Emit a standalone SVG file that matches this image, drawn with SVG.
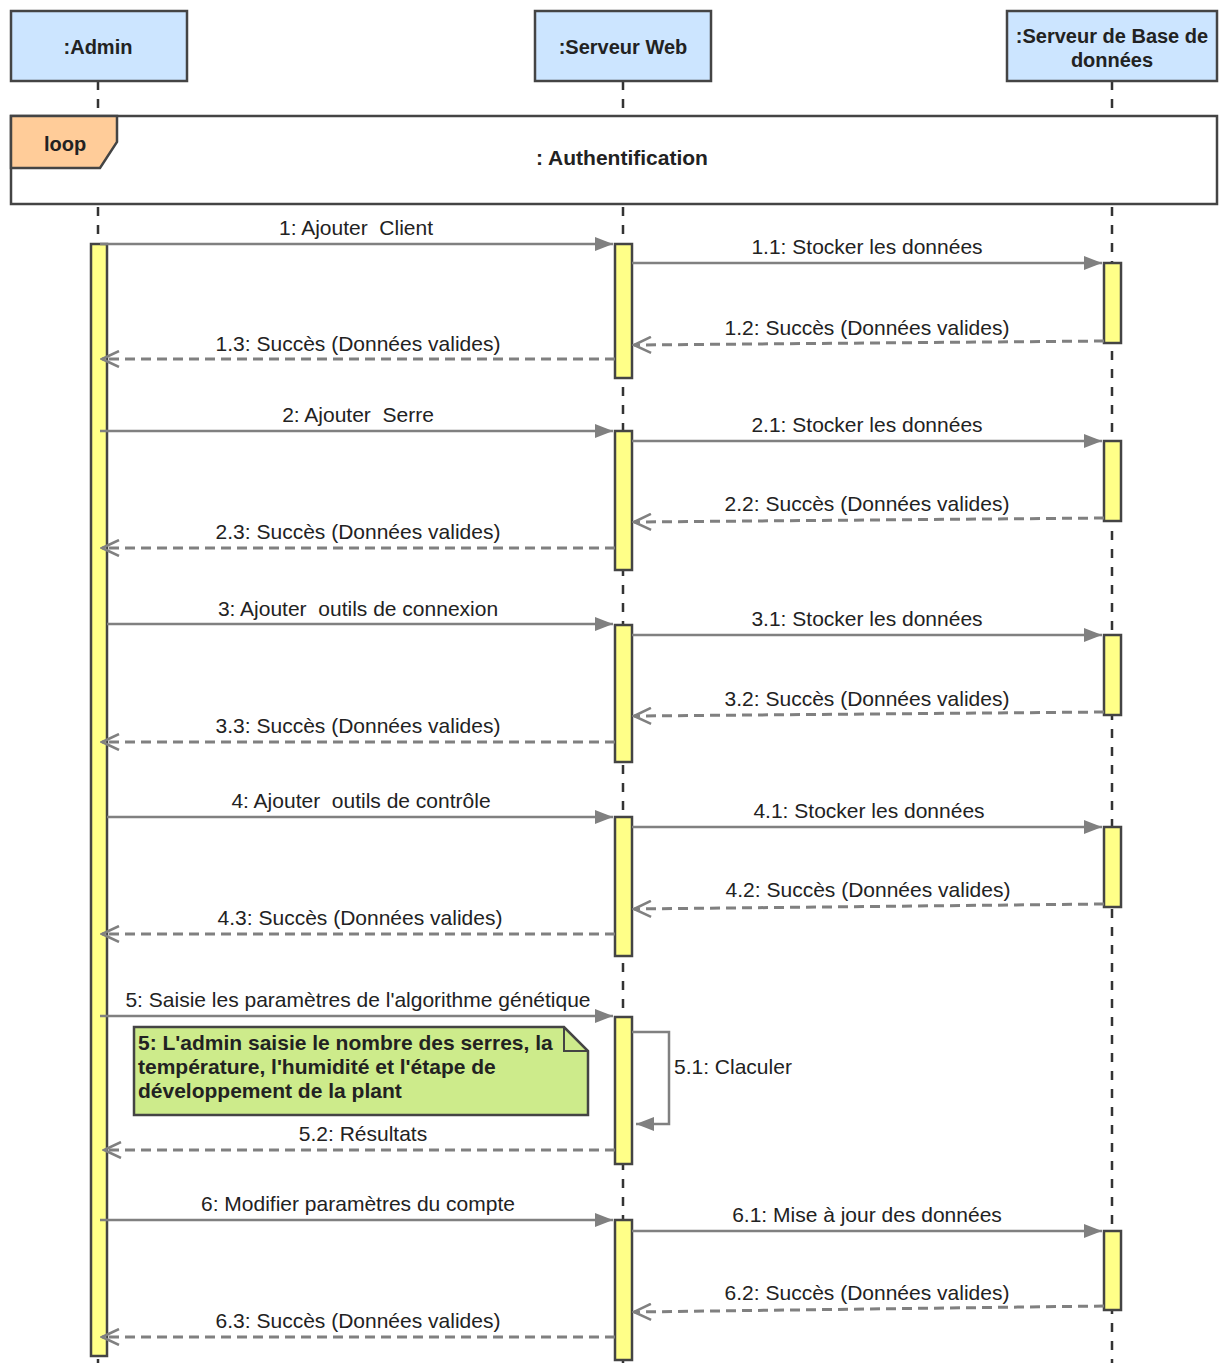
<svg xmlns="http://www.w3.org/2000/svg" width="1219" height="1363" viewBox="0 0 1219 1363">
<style>
.hdr{fill:#cce5ff;stroke:#444;stroke-width:2.5}
.act{fill:#ffff88;stroke:#444;stroke-width:2.5}
.life{stroke:#333;stroke-width:2.5;stroke-dasharray:9 9;fill:none}
.msg{stroke:#808080;stroke-width:2.5;fill:none}
.ret{stroke:#808080;stroke-width:3;fill:none;stroke-dasharray:10 6}
.t{font-family:"Liberation Sans",Arial,sans-serif;font-size:21px;fill:#222;text-anchor:middle;white-space:pre}
.b{font-family:"Liberation Sans",Arial,sans-serif;font-size:20px;font-weight:bold;fill:#222;text-anchor:middle}
.n{font-family:"Liberation Sans",Arial,sans-serif;font-size:21px;font-weight:bold;fill:#222}
</style>
<defs>
<marker id="sync" markerWidth="20" markerHeight="14" refX="18" refY="7" orient="auto" markerUnits="userSpaceOnUse">
<path d="M0,0 L18,7 L0,14 Z" fill="#808080"/>
</marker>
<marker id="open" markerWidth="20" markerHeight="18" refX="18" refY="9" orient="auto" markerUnits="userSpaceOnUse">
<path d="M1,1 L18,9 L1,17" fill="none" stroke="#808080" stroke-width="2.5"/>
</marker>
</defs>

<g id="lifelines">
<line class="life" x1="98" y1="81" x2="98" y2="1363"/>
<line class="life" x1="623" y1="81" x2="623" y2="1363"/>
<line class="life" x1="1112" y1="81" x2="1112" y2="1363"/>
</g>

<g id="admin"><rect class="hdr" x="11" y="11" width="176" height="70"/><text class="b" x="98" y="54">:Admin</text></g>
<g id="web"><rect class="hdr" x="535" y="11" width="176" height="70"/><text class="b" x="623" y="54">:Serveur Web</text></g>
<g id="db"><rect class="hdr" x="1007" y="11" width="210" height="70"/><text class="b" x="1112" y="43">:Serveur de Base de</text><text class="b" x="1112" y="67">données</text></g>

<g id="loop">
<rect x="11" y="116" width="1206" height="88" fill="#fff" stroke="#444" stroke-width="2.5"/>
<path d="M11,116 L117,116 L117,142 L100,168 L11,168 Z" fill="#ffcc99" stroke="#444" stroke-width="2.5"/>
<text class="t" x="65" y="151" style="font-weight:bold;font-size:20px">loop</text>
<text class="b" x="622" y="165" style="font-size:21px">: Authentification</text>
</g>

<g id="activations">
<rect class="act" x="91" y="244" width="16" height="1112"/>
<rect class="act" x="615" y="244" width="17" height="134"/>
<rect class="act" x="615" y="431" width="17" height="139"/>
<rect class="act" x="615" y="625" width="17" height="137"/>
<rect class="act" x="615" y="817" width="17" height="139"/>
<rect class="act" x="615" y="1017" width="17" height="147"/>
<rect class="act" x="615" y="1220" width="17" height="140"/>
<rect class="act" x="1104" y="263" width="17" height="80"/>
<rect class="act" x="1104" y="441" width="17" height="80"/>
<rect class="act" x="1104" y="635" width="17" height="80"/>
<rect class="act" x="1104" y="827" width="17" height="80"/>
<rect class="act" x="1104" y="1231" width="17" height="79"/>
</g>

<g id="connectors">
<line class="msg" x1="100" y1="244" x2="613" y2="244" marker-end="url(#sync)"/>
<line class="msg" x1="632" y1="263" x2="1102" y2="263" marker-end="url(#sync)"/>
<line class="ret" x1="1104" y1="341" x2="634" y2="345" marker-end="url(#open)"/>
<line class="ret" x1="615" y1="359" x2="102" y2="359" marker-end="url(#open)"/>

<line class="msg" x1="100" y1="431" x2="613" y2="431" marker-end="url(#sync)"/>
<line class="msg" x1="632" y1="441" x2="1102" y2="441" marker-end="url(#sync)"/>
<line class="ret" x1="1104" y1="518" x2="634" y2="522" marker-end="url(#open)"/>
<line class="ret" x1="615" y1="548" x2="102" y2="548" marker-end="url(#open)"/>

<line class="msg" x1="107" y1="624" x2="613" y2="624" marker-end="url(#sync)"/>
<line class="msg" x1="632" y1="635" x2="1102" y2="635" marker-end="url(#sync)"/>
<line class="ret" x1="1104" y1="712" x2="634" y2="716" marker-end="url(#open)"/>
<line class="ret" x1="615" y1="742" x2="102" y2="742" marker-end="url(#open)"/>

<line class="msg" x1="107" y1="817" x2="613" y2="817" marker-end="url(#sync)"/>
<line class="msg" x1="632" y1="827" x2="1102" y2="827" marker-end="url(#sync)"/>
<line class="ret" x1="1104" y1="904" x2="634" y2="909" marker-end="url(#open)"/>
<line class="ret" x1="615" y1="934" x2="102" y2="934" marker-end="url(#open)"/>

<line class="msg" x1="100" y1="1016" x2="613" y2="1016" marker-end="url(#sync)"/>
<path class="msg" d="M632,1032 L669,1032 L669,1124 L636,1124" marker-end="url(#sync)"/>
<line class="ret" x1="615" y1="1150" x2="104" y2="1150" marker-end="url(#open)"/>

<line class="msg" x1="100" y1="1220" x2="613" y2="1220" marker-end="url(#sync)"/>
<line class="msg" x1="632" y1="1231" x2="1102" y2="1231" marker-end="url(#sync)"/>
<line class="ret" x1="1104" y1="1306" x2="634" y2="1312" marker-end="url(#open)"/>
<line class="ret" x1="615" y1="1337" x2="102" y2="1337" marker-end="url(#open)"/>
</g>

<g id="labels">
<text class="t" x="356" y="235">1: Ajouter  Client</text>
<text class="t" x="867" y="254">1.1: Stocker les données</text>
<text class="t" x="867" y="335">1.2: Succès (Données valides)</text>
<text class="t" x="358" y="351">1.3: Succès (Données valides)</text>

<text class="t" x="358" y="422">2: Ajouter  Serre</text>
<text class="t" x="867" y="432">2.1: Stocker les données</text>
<text class="t" x="867" y="511">2.2: Succès (Données valides)</text>
<text class="t" x="358" y="539">2.3: Succès (Données valides)</text>

<text class="t" x="358" y="616">3: Ajouter  outils de connexion</text>
<text class="t" x="867" y="626">3.1: Stocker les données</text>
<text class="t" x="867" y="706">3.2: Succès (Données valides)</text>
<text class="t" x="358" y="733">3.3: Succès (Données valides)</text>

<text class="t" x="361" y="808">4: Ajouter  outils de contrôle</text>
<text class="t" x="869" y="818">4.1: Stocker les données</text>
<text class="t" x="868" y="897">4.2: Succès (Données valides)</text>
<text class="t" x="360" y="925">4.3: Succès (Données valides)</text>

<text class="t" x="358" y="1007">5: Saisie les paramètres de l'algorithme génétique</text>
<text class="t" x="674" y="1074" style="text-anchor:start">5.1: Claculer</text>
<text class="t" x="363" y="1141">5.2: Résultats</text>

<text class="t" x="358" y="1211">6: Modifier paramètres du compte</text>
<text class="t" x="867" y="1222">6.1: Mise à jour des données</text>
<text class="t" x="867" y="1300">6.2: Succès (Données valides)</text>
<text class="t" x="358" y="1328">6.3: Succès (Données valides)</text>
</g>

<g id="note">
<path d="M134,1027 L564,1027 L588,1051 L588,1115 L134,1115 Z" fill="#cdeb8b" stroke="#444" stroke-width="2.5"/>
<path d="M564,1027 L564,1051 L588,1051" fill="none" stroke="#444" stroke-width="2"/>
<text class="n" x="138" y="1050">5: L'admin saisie le nombre des serres, la</text>
<text class="n" x="138" y="1074">température, l'humidité et l'étape de</text>
<text class="n" x="138" y="1098">développement de la plant</text>
</g>
</svg>
